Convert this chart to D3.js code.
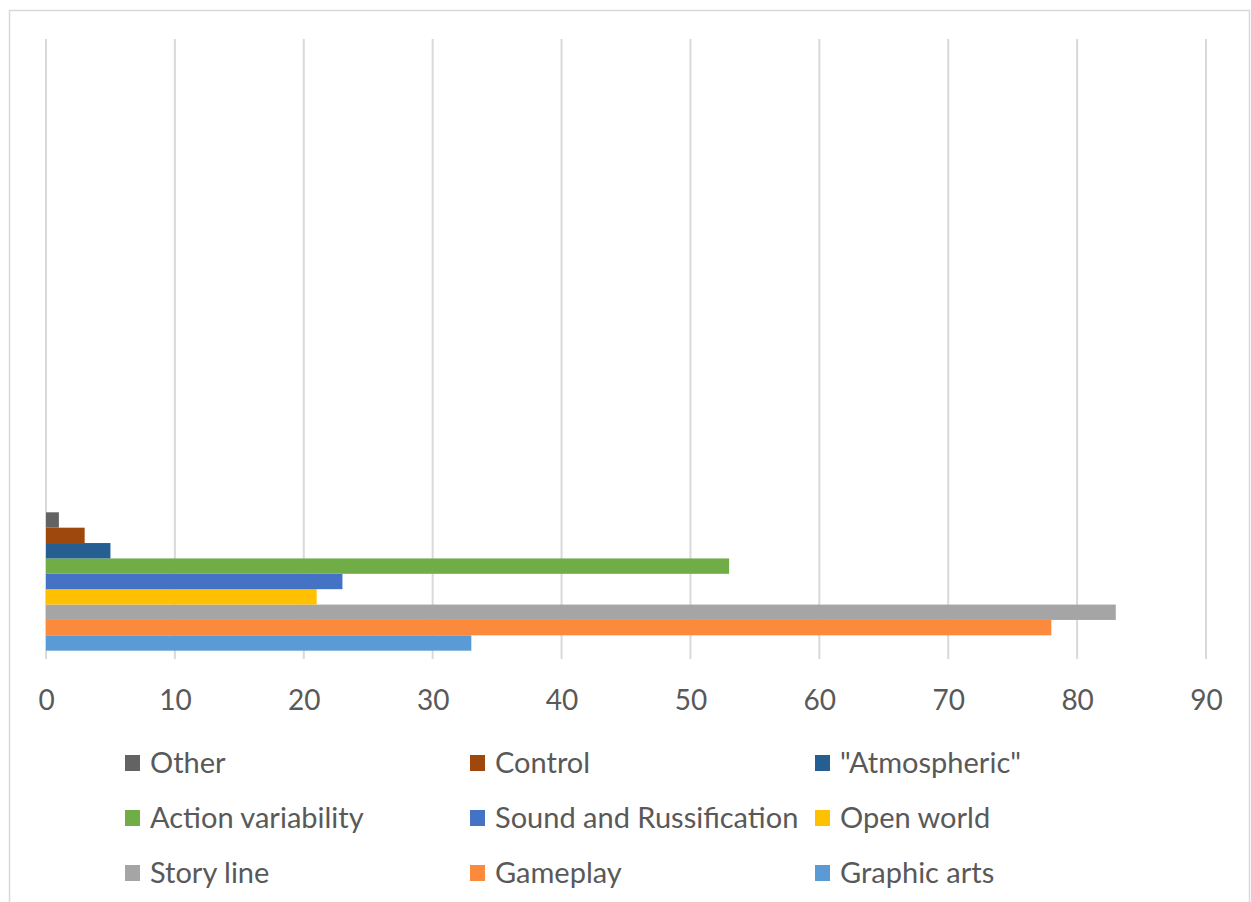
<!DOCTYPE html>
<html>
<head>
<meta charset="utf-8">
<script src="https://cdn.jsdelivr.net/npm/d3@7"></script>
<style>
  html, body { margin: 0; padding: 0; background: #ffffff; }
  svg { display: block; }
</style>
</head>
<body>
<svg id="chart" width="1251" height="902"></svg>
<script>
// Series, listed from the bottom bar upward
const seriesNames = ["Graphic arts", "Gameplay", "Story line", "Open world",
  "Sound and Russification", "Action variability", "\"Atmospheric\"", "Control", "Other"];
const seriesValues = [33, 78, 83, 21, 23, 53, 5, 3, 1];
const seriesColors = ["#5B9BD5", "#FB8A3C", "#A5A5A5", "#FFC000",
  "#4472C4", "#70AD47", "#255E91", "#9E480E", "#636363"];
const tickValues = [0, 10, 20, 30, 40, 50, 60, 70, 80, 90];

// Legend order (row by row, three per row)
const legendOrder = ["Other", "Control", "\"Atmospheric\"",
  "Action variability", "Sound and Russification", "Open world",
  "Story line", "Gameplay", "Graphic arts"];

const svg = d3.select("#chart");
const font = "Lato, 'Open Sans', sans-serif";
const textColor = "#595959";

// Chart frame
svg.append("rect")
  .attr("x", 9.5).attr("y", 10.5)
  .attr("width", 1240).attr("height", 920)
  .attr("fill", "#fff").attr("stroke", "#d9d9d9").attr("stroke-width", 1.5);

const plot = { left: 46, right: 1206, top: 39, bottom: 659 };

const x = d3.scaleLinear().domain([0, 90]).range([plot.left, plot.right]);

// The single category occupies the lowest quarter of the plot height
const bandH = (plot.bottom - plot.top) / 4;
const groupH = bandH / 1.12;
const groupCenter = plot.bottom - bandH / 2;
const y = d3.scaleBand()
  .domain(seriesNames)
  .range([groupCenter + groupH / 2, groupCenter - groupH / 2])
  .paddingInner(0).paddingOuter(0);

// Vertical gridlines
svg.append("g")
  .selectAll("line")
  .data(tickValues)
  .join("line")
  .attr("x1", d => x(d)).attr("x2", d => x(d))
  .attr("y1", plot.top).attr("y2", plot.bottom)
  .attr("stroke", "#d9d9d9").attr("stroke-width", 2);

// Bars
svg.append("g")
  .selectAll("rect")
  .data(seriesNames.map((n, i) => ({ name: n, value: seriesValues[i], color: seriesColors[i] })))
  .join("rect")
  .attr("x", x(0))
  .attr("y", d => y(d.name))
  .attr("width", d => x(d.value) - x(0))
  .attr("height", y.bandwidth())
  .attr("fill", d => d.color);

// Value axis labels
const axis = d3.axisBottom(x).tickValues(tickValues).tickSize(0).tickPadding(0);
const axisG = svg.append("g")
  .attr("transform", `translate(0, ${plot.bottom})`)
  .call(axis);
axisG.select(".domain").remove();
axisG.selectAll("text")
  .attr("y", 51)
  .attr("dy", 0)
  .attr("fill", textColor)
  .style("font-family", font)
  .style("font-size", "28px");

// Legend
const colorOf = name => seriesColors[seriesNames.indexOf(name)];
const legendCols = [125, 470, 815];
const legendRows = [763, 818, 873];
const lg = svg.append("g")
  .selectAll("g")
  .data(legendOrder)
  .join("g")
  .attr("transform", (d, i) => `translate(${legendCols[i % 3]}, ${legendRows[Math.floor(i / 3)]})`);
lg.append("rect")
  .attr("x", 0).attr("y", -8)
  .attr("width", 15).attr("height", 16)
  .attr("fill", d => colorOf(d));
lg.append("text")
  .attr("x", 25).attr("y", 10)
  .attr("fill", textColor)
  .style("font-family", font)
  .style("font-size", "29px")
  .text(d => d);
</script>
</body>
</html>
